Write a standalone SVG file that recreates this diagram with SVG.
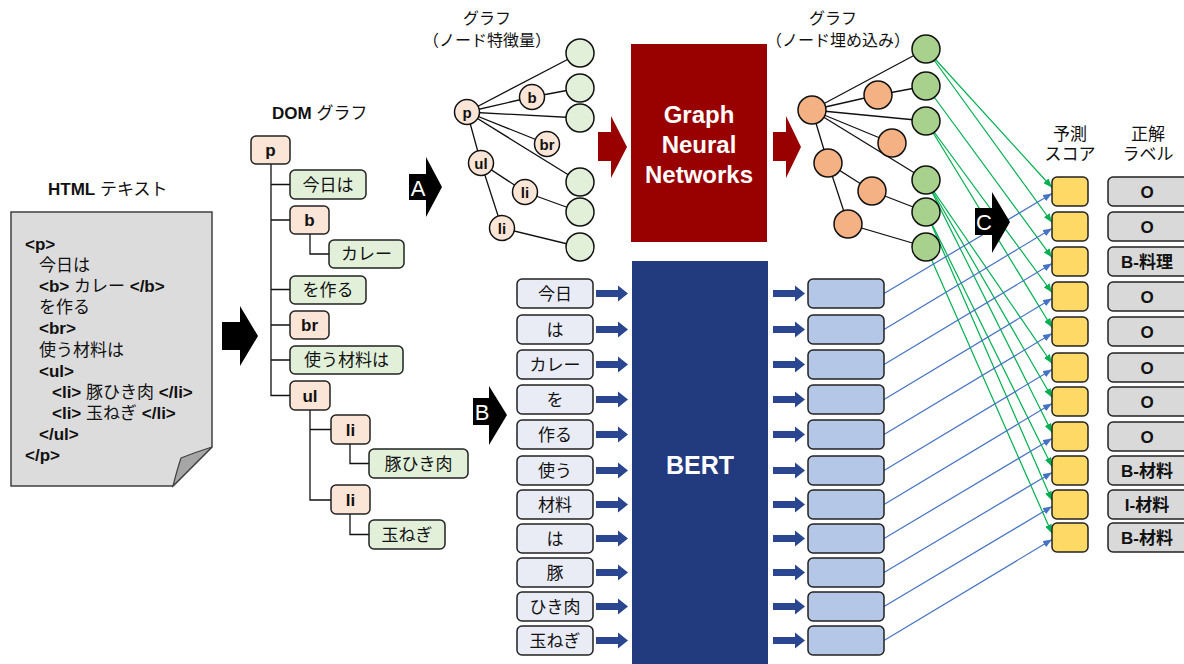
<svg xmlns="http://www.w3.org/2000/svg" width="1184" height="664" viewBox="0 0 1184 664">
<style>
text{font-family:"Liberation Sans","Noto Sans CJK JP",sans-serif;fill:#111}
.b{font-weight:bold}
.c{text-anchor:middle}
.w{fill:#fff}
.box{stroke:#222;stroke-width:1.5}
.pe{fill:#fbe5d6}
.gr{fill:#e2f0d9}
.edge{stroke:#111;stroke-width:1.3;fill:none}
.blue{stroke:#4472c4;stroke-width:1.2;fill:none}
.green{stroke:#00b050;stroke-width:1.2;fill:none}
.circ{stroke:#111;stroke-width:1.5}
</style>
<defs>
<marker id="mb" markerUnits="userSpaceOnUse" markerWidth="9" markerHeight="7" refX="9" refY="3.5" orient="auto"><path d="M0,0 L9,3.5 L0,7 z" fill="#4472c4"/></marker>
<marker id="mg" markerUnits="userSpaceOnUse" markerWidth="9" markerHeight="7" refX="9" refY="3.5" orient="auto"><path d="M0,0 L9,3.5 L0,7 z" fill="#00b050"/></marker>
<path id="ta" d="M0,-3.5 H22 V-8 L32,0 L22,8 V3.5 H0 Z" fill="#2a4690"/>
</defs>

<!-- HTML document -->
<g id="html">
<text x="48" y="195" font-size="17"><tspan class="b">HTML</tspan> テキスト</text>
<path d="M11,212 H212 V447 L173,486 H11 Z" fill="#dcdcdc" stroke="#404040" stroke-width="1.5"/>
<path d="M173,486 Q177,470 181,458 Q196,452 212,447 Z" fill="#a6a6a6" stroke="#404040" stroke-width="1.2"/>
<g font-size="17">
<text x="25" y="250" class="b">&lt;p&gt;</text>
<text x="39" y="271">今日は</text>
<text x="39" y="292"><tspan class="b">&lt;b&gt;</tspan> カレー <tspan class="b">&lt;/b&gt;</tspan></text>
<text x="39" y="313">を作る</text>
<text x="39" y="334" class="b">&lt;br&gt;</text>
<text x="39" y="356">使う材料は</text>
<text x="39" y="377" class="b">&lt;ul&gt;</text>
<text x="52" y="398"><tspan class="b">&lt;li&gt;</tspan> 豚ひき肉 <tspan class="b">&lt;/li&gt;</tspan></text>
<text x="52" y="419"><tspan class="b">&lt;li&gt;</tspan> 玉ねぎ <tspan class="b">&lt;/li&gt;</tspan></text>
<text x="39" y="440" class="b">&lt;/ul&gt;</text>
<text x="25" y="461" class="b">&lt;/p&gt;</text>
</g>
</g>

<g id="arrow-html-dom">
<path d="M222,322 H240 V306 L258,336 L240,366 V350 H222 Z" fill="#000"/>
</g>

<!-- DOM tree -->
<g id="dom">
<text x="272" y="119" font-size="17"><tspan class="b">DOM</tspan> グラフ</text>
<g class="edge">
<path d="M271,164 V395.5 H290 M271,184.5 H290 M271,220 H290 M271,289.5 H290 M271,325 H290 M271,360 H290"/>
<path d="M310,234 V254 H329"/>
<path d="M310,410 V500 H331 M310,429.5 H331"/>
<path d="M350,444 V463.5 H369"/>
<path d="M350,514 V534.5 H369"/>
</g>
<g id="dom-p"><rect x="251" y="136" width="39" height="28" rx="5" class="box pe"/><text x="270.5" y="156" font-size="17" class="b c">p</text></g>
<g id="dom-kyouha"><rect x="290" y="170" width="76" height="29" rx="5" class="box gr"/><text x="328" y="190.5" font-size="17" class="c">今日は</text></g>
<g id="dom-b"><rect x="290" y="206" width="39" height="28" rx="5" class="box pe"/><text x="309.5" y="226" font-size="17" class="b c">b</text></g>
<g id="dom-curry"><rect x="329" y="240" width="75" height="28" rx="5" class="box gr"/><text x="366.5" y="260" font-size="17" class="c">カレー</text></g>
<g id="dom-tsukuru"><rect x="290" y="276" width="76" height="28" rx="5" class="box gr"/><text x="328" y="296" font-size="17" class="c">を作る</text></g>
<g id="dom-br"><rect x="290" y="311" width="39" height="28" rx="5" class="box pe"/><text x="309.5" y="331" font-size="17" class="b c">br</text></g>
<g id="dom-zairyo"><rect x="290" y="346" width="113" height="28" rx="5" class="box gr"/><text x="346.5" y="366" font-size="17" class="c">使う材料は</text></g>
<g id="dom-ul"><rect x="290" y="381" width="40" height="29" rx="5" class="box pe"/><text x="310" y="401.5" font-size="17" class="b c">ul</text></g>
<g id="dom-li1"><rect x="331" y="415" width="39" height="29" rx="5" class="box pe"/><text x="350.5" y="435.5" font-size="17" class="b c">li</text></g>
<g id="dom-buta"><rect x="369" y="449" width="99" height="29" rx="5" class="box gr"/><text x="418.5" y="469.5" font-size="17" class="c">豚ひき肉</text></g>
<g id="dom-li2"><rect x="331" y="485" width="39" height="29" rx="5" class="box pe"/><text x="350.5" y="505.5" font-size="17" class="b c">li</text></g>
<g id="dom-tamanegi"><rect x="369" y="520" width="76" height="29" rx="5" class="box gr"/><text x="407" y="540.5" font-size="17" class="c">玉ねぎ</text></g>
</g>

<!-- A / B arrows -->
<g id="arrow-A"><path d="M409,174 H426 V157 L442,187 L426,217 V200 H409 Z" fill="#000"/><text x="418" y="196" font-size="22" class="c w">A</text></g>
<g id="arrow-B"><path d="M473,398 H489 V386 L507,415 L489,445 V425 H473 Z" fill="#000"/><text x="482" y="420" font-size="22" class="c w">B</text></g>

<!-- Left graph: node features -->
<g id="graph-features">
<text x="487" y="24" font-size="16" class="c">グラフ</text>
<text x="487" y="46" font-size="16" class="c">（ノード特徴量）</text>
<g class="edge">
<path d="M467,112 L580,53 M467,112 L532,97 L580,88 M467,112 L580,118 M467,112 L547,144 M467,112 L580,182 M467,112 L481,163 L525,192 L580,212 M481,163 L502,228 L580,247"/>
</g>
<g id="gf-nodes">
<circle cx="467" cy="112" r="12.5" class="circ pe"/><text x="467" y="117.5" font-size="15" class="b c">p</text>
<circle cx="532" cy="97" r="12.5" class="circ pe"/><text x="532" y="102.5" font-size="15" class="b c">b</text>
<circle cx="547" cy="144" r="12.5" class="circ pe"/><text x="547" y="149.5" font-size="15" class="b c">br</text>
<circle cx="481" cy="163" r="12.5" class="circ pe"/><text x="481" y="168.5" font-size="15" class="b c">ul</text>
<circle cx="525" cy="192" r="12.5" class="circ pe"/><text x="525" y="197.5" font-size="15" class="b c">li</text>
<circle cx="502" cy="228" r="12.5" class="circ pe"/><text x="502" y="233.5" font-size="15" class="b c">li</text>
<circle cx="580" cy="53" r="14" class="circ gr"/>
<circle cx="580" cy="88" r="14" class="circ gr"/>
<circle cx="580" cy="118" r="14" class="circ gr"/>
<circle cx="580" cy="182" r="14" class="circ gr"/>
<circle cx="580" cy="212" r="14" class="circ gr"/>
<circle cx="580" cy="247" r="14" class="circ gr"/>
</g>
</g>

<!-- GNN -->
<g id="red-arrow-1"><path d="M598,132 H611 V116 L627,147 L611,178 V161 H598 Z" fill="#990000"/></g>
<g id="gnn">
<rect x="631" y="44" width="136" height="198" fill="#990000"/>
<text x="699" y="123" font-size="24" class="b c w">Graph</text>
<text x="699" y="153" font-size="24" class="b c w">Neural</text>
<text x="699" y="183" font-size="24" class="b c w">Networks</text>
</g>
<g id="red-arrow-2"><path d="M773,132 H786 V116 L801,147 L786,178 V161 H773 Z" fill="#990000"/></g>

<!-- Connectors to scores -->
<g id="connectors">
<g class="green" marker-end="url(#mg)">
<line x1="926" y1="49" x2="1052" y2="187.5"/>
<line x1="926" y1="49" x2="1052" y2="222.5"/>
<line x1="926" y1="86" x2="1052" y2="257.5"/>
<line x1="926" y1="121" x2="1052" y2="292.5"/>
<line x1="926" y1="121" x2="1052" y2="327.5"/>
<line x1="926" y1="180" x2="1052" y2="363.5"/>
<line x1="926" y1="180" x2="1052" y2="397.5"/>
<line x1="926" y1="180" x2="1052" y2="432.5"/>
<line x1="926" y1="212" x2="1052" y2="466.5"/>
<line x1="926" y1="212" x2="1052" y2="500.5"/>
<line x1="926" y1="247" x2="1052" y2="533.5"/>
</g>
<g class="blue" marker-end="url(#mb)">
<line x1="884" y1="293.5" x2="1052" y2="193.5"/>
<line x1="884" y1="329.5" x2="1052" y2="228.5"/>
<line x1="884" y1="364.5" x2="1052" y2="263.5"/>
<line x1="884" y1="399.5" x2="1052" y2="298.5"/>
<line x1="884" y1="434.5" x2="1052" y2="333.5"/>
<line x1="884" y1="470.5" x2="1052" y2="369.5"/>
<line x1="884" y1="504.5" x2="1052" y2="403.5"/>
<line x1="884" y1="538.5" x2="1052" y2="438.5"/>
<line x1="884" y1="572.5" x2="1052" y2="472.5"/>
<line x1="884" y1="606.5" x2="1052" y2="506.5"/>
<line x1="884" y1="640.5" x2="1052" y2="539.5"/>
</g>
</g>

<g id="arrow-C"><path d="M975,208 H992 V192 L1010,222 L992,253 V235 H975 Z" fill="#000"/><text x="984" y="230" font-size="22" class="c w">C</text></g>

<!-- Right graph: node embeddings -->
<g id="graph-embeddings">
<text x="833" y="24" font-size="16" class="c">グラフ</text>
<text x="838" y="46" font-size="16" class="c">（ノード埋め込み）</text>
<g class="edge">
<path d="M812,110 L926,49 M812,110 L878,95 L926,86 M812,110 L926,121 M812,110 L892,143 M812,110 L926,180 M812,110 L828,163 L872,191 L926,212 M828,163 L848,224 L926,247"/>
</g>
<g fill="#f4b183">
<circle cx="812" cy="110" r="14" class="circ"/>
<circle cx="878" cy="95" r="14" class="circ"/>
<circle cx="892" cy="143" r="14" class="circ"/>
<circle cx="828" cy="163" r="14" class="circ"/>
<circle cx="872" cy="191" r="14" class="circ"/>
<circle cx="848" cy="224" r="14" class="circ"/>
</g>
<g fill="#a9d18e">
<circle cx="926" cy="49" r="14" class="circ"/>
<circle cx="926" cy="86" r="14" class="circ"/>
<circle cx="926" cy="121" r="14" class="circ"/>
<circle cx="926" cy="180" r="14" class="circ"/>
<circle cx="926" cy="212" r="14" class="circ"/>
<circle cx="926" cy="247" r="14" class="circ"/>
</g>
</g>

<!-- Tokens -->
<g id="tokens" font-size="17">
<g fill="#e9ebf5" class="box">
<rect x="517" y="279" width="76" height="29" rx="5"/>
<rect x="517" y="315" width="76" height="29" rx="5"/>
<rect x="517" y="350" width="76" height="29" rx="5"/>
<rect x="517" y="385" width="76" height="29" rx="5"/>
<rect x="517" y="420" width="76" height="29" rx="5"/>
<rect x="517" y="456" width="76" height="29" rx="5"/>
<rect x="517" y="490" width="76" height="29" rx="5"/>
<rect x="517" y="524" width="76" height="29" rx="5"/>
<rect x="517" y="558" width="76" height="29" rx="5"/>
<rect x="517" y="592" width="76" height="29" rx="5"/>
<rect x="517" y="626" width="76" height="29" rx="5"/>
</g>
<text x="555" y="299.5" class="c">今日</text>
<text x="555" y="335.5" class="c">は</text>
<text x="555" y="370.5" class="c">カレー</text>
<text x="555" y="405.5" class="c">を</text>
<text x="555" y="440.5" class="c">作る</text>
<text x="555" y="476.5" class="c">使う</text>
<text x="555" y="510.5" class="c">材料</text>
<text x="555" y="544.5" class="c">は</text>
<text x="555" y="578.5" class="c">豚</text>
<text x="555" y="612.5" class="c">ひき肉</text>
<text x="555" y="646.5" class="c">玉ねぎ</text>
</g>
<g id="token-arrows">
<use href="#ta" x="596" y="293.5"/><use href="#ta" x="596" y="329.5"/><use href="#ta" x="596" y="364.5"/><use href="#ta" x="596" y="399.5"/><use href="#ta" x="596" y="434.5"/><use href="#ta" x="596" y="470.5"/><use href="#ta" x="596" y="504.5"/><use href="#ta" x="596" y="538.5"/><use href="#ta" x="596" y="572.5"/><use href="#ta" x="596" y="606.5"/><use href="#ta" x="596" y="640.5"/>
</g>

<g id="bert">
<rect x="632" y="261" width="136" height="410" fill="#223a7e"/>
<text x="700" y="474" font-size="25" class="b c w">BERT</text>
</g>

<g id="out-arrows">
<use href="#ta" x="773" y="293.5"/><use href="#ta" x="773" y="329.5"/><use href="#ta" x="773" y="364.5"/><use href="#ta" x="773" y="399.5"/><use href="#ta" x="773" y="434.5"/><use href="#ta" x="773" y="470.5"/><use href="#ta" x="773" y="504.5"/><use href="#ta" x="773" y="538.5"/><use href="#ta" x="773" y="572.5"/><use href="#ta" x="773" y="606.5"/><use href="#ta" x="773" y="640.5"/>
</g>
<g id="bert-outputs" fill="#b4c7e7" class="box">
<rect x="808" y="279" width="76" height="29" rx="5"/>
<rect x="808" y="315" width="76" height="29" rx="5"/>
<rect x="808" y="350" width="76" height="29" rx="5"/>
<rect x="808" y="385" width="76" height="29" rx="5"/>
<rect x="808" y="420" width="76" height="29" rx="5"/>
<rect x="808" y="456" width="76" height="29" rx="5"/>
<rect x="808" y="490" width="76" height="29" rx="5"/>
<rect x="808" y="524" width="76" height="29" rx="5"/>
<rect x="808" y="558" width="76" height="29" rx="5"/>
<rect x="808" y="592" width="76" height="29" rx="5"/>
<rect x="808" y="626" width="76" height="29" rx="5"/>
</g>

<!-- Scores -->
<g id="scores">
<text x="1070" y="140" font-size="17" class="c">予測</text>
<text x="1070" y="160" font-size="17" class="c">スコア</text>
<g fill="#ffd966" class="box">
<rect x="1052" y="177" width="36" height="29" rx="5"/>
<rect x="1052" y="212" width="36" height="29" rx="5"/>
<rect x="1052" y="247" width="36" height="29" rx="5"/>
<rect x="1052" y="282" width="36" height="29" rx="5"/>
<rect x="1052" y="317" width="36" height="29" rx="5"/>
<rect x="1052" y="353" width="36" height="29" rx="5"/>
<rect x="1052" y="387" width="36" height="29" rx="5"/>
<rect x="1052" y="422" width="36" height="29" rx="5"/>
<rect x="1052" y="456" width="36" height="29" rx="5"/>
<rect x="1052" y="490" width="36" height="29" rx="5"/>
<rect x="1052" y="523" width="36" height="29" rx="5"/>
</g>
</g>

<!-- Gold labels -->
<g id="labels">
<text x="1148" y="140" font-size="17" class="c">正解</text>
<text x="1148" y="160" font-size="17" class="c">ラベル</text>
<g fill="#d9d9d9" class="box">
<rect x="1108" y="177" width="84" height="29" rx="5"/>
<rect x="1108" y="212" width="84" height="29" rx="5"/>
<rect x="1108" y="247" width="84" height="29" rx="5"/>
<rect x="1108" y="282" width="84" height="29" rx="5"/>
<rect x="1108" y="317" width="84" height="29" rx="5"/>
<rect x="1108" y="353" width="84" height="29" rx="5"/>
<rect x="1108" y="387" width="84" height="29" rx="5"/>
<rect x="1108" y="422" width="84" height="29" rx="5"/>
<rect x="1108" y="456" width="84" height="29" rx="5"/>
<rect x="1108" y="490" width="84" height="29" rx="5"/>
<rect x="1108" y="523" width="84" height="29" rx="5"/>
</g>
<g font-size="17" class="b c">
<text x="1147" y="197.5">O</text>
<text x="1147" y="232.5">O</text>
<text x="1147" y="267.5">B-料理</text>
<text x="1147" y="302.5">O</text>
<text x="1147" y="337.5">O</text>
<text x="1147" y="373.5">O</text>
<text x="1147" y="407.5">O</text>
<text x="1147" y="442.5">O</text>
<text x="1147" y="476.5">B-材料</text>
<text x="1147" y="510.5">I-材料</text>
<text x="1147" y="543.5">B-材料</text>
</g>
</g>
</svg>
